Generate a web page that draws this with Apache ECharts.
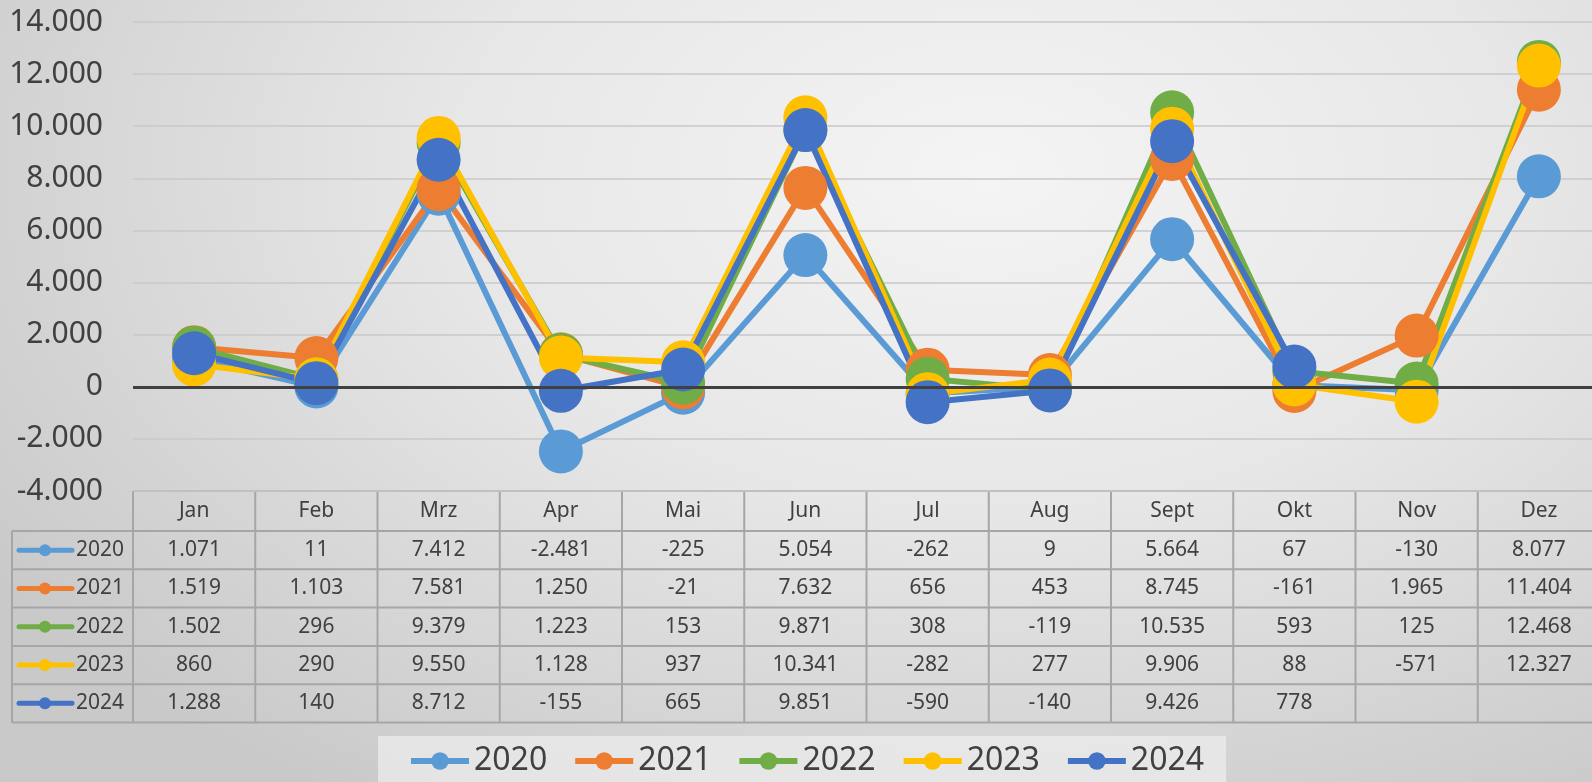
<!DOCTYPE html>
<html>
<head>
    <meta charset="utf-8">
    <title>Monatswerte 2020-2024</title>
    <script src="https://cdn.jsdelivr.net/npm/echarts@6/dist/echarts.min.js"></script>
    <style>
        html, body { margin: 0; padding: 0; overflow: hidden; }
        #main {
            width: 1592px;
            height: 782px;
            background: radial-gradient(ellipse 75% 95% at 62% 22%, #f4f4f4 0%, #e7e7e7 45%, #c9c9c9 100%);
        }
    </style>
</head>
<body>
<div id="main"></div>
<script>
    // Daten
    var months = ['Jan', 'Feb', 'Mrz', 'Apr', 'Mai', 'Jun', 'Jul', 'Aug', 'Sept', 'Okt', 'Nov', 'Dez'];
    var years = ['2020', '2021', '2022', '2023', '2024'];
    var colors = ['#5b9bd5', '#ed7d31', '#70ad47', '#ffc000', '#4472c4'];
    var v2020 = [1071, 11, 7412, -2481, -225, 5054, -262, 9, 5664, 67, -130, 8077];
    var v2021 = [1519, 1103, 7581, 1250, -21, 7632, 656, 453, 8745, -161, 1965, 11404];
    var v2022 = [1502, 296, 9379, 1223, 153, 9871, 308, -119, 10535, 593, 125, 12468];
    var v2023 = [860, 290, 9550, 1128, 937, 10341, -282, 277, 9906, 88, -571, 12327];
    var v2024 = [1288, 140, 8712, -155, 665, 9851, -590, -140, 9426, 778, null, null];
    var values = [v2020, v2021, v2022, v2023, v2024];
    var yTicks = [-4000, 14000, 2000]; // min, max, interval

    // Geometrie (Tabelle läuft rechts etwas über den Rand hinaus)
    var gLeft = 133, gRight = 1600, gTop = 22, gBottom = 491;
    var headH = 40, rowH = 38.3;
    var txt = '#404040', border = '#a6a6a6';
    var font = '"Noto Sans", "Open Sans", sans-serif';

    function fmt(v) {
        if (v === null || v === undefined) return '';
        var s = String(Math.abs(v)).replace(/\B(?=(\d{3})+(?!\d))/g, '.');
        return (v < 0 ? '-' : '') + s;
    }

    var myChart = echarts.init(document.getElementById('main'));

    var series = [];
    for (var i = 0; i < years.length; i++) {
        var s = {
            name: years[i],
            type: 'line',
            data: values[i],
            symbol: 'circle',
            symbolSize: 44,
            showAllSymbol: true,
            itemStyle: { color: colors[i] },
            lineStyle: { color: colors[i], width: 6 },
            emphasis: { disabled: true },
            z: 3
        };
        if (i === 0) {
            s.markLine = {
                silent: true,
                symbol: 'none',
                label: { show: false },
                lineStyle: { color: '#404040', width: 3, type: 'solid' },
                data: [{ yAxis: 0 }]
            };
        }
        series.push(s);
    }

    // Tabelle unter der Achse
    var colW = (gRight - gLeft) / months.length;
    var tableBottom = gBottom + headH + rowH * years.length;
    var gr = [];
    // horizontale Linien
    gr.push({ type: 'line', shape: { x1: gLeft, y1: gBottom, x2: gRight, y2: gBottom }, style: { stroke: border, lineWidth: 2 } });
    for (var r = 0; r <= years.length; r++) {
        var y = gBottom + headH + r * rowH;
        gr.push({ type: 'line', shape: { x1: 12, y1: y, x2: gRight, y2: y }, style: { stroke: border, lineWidth: 2 } });
    }
    // vertikale Linien
    gr.push({ type: 'line', shape: { x1: 12, y1: gBottom + headH, x2: 12, y2: tableBottom }, style: { stroke: border, lineWidth: 2 } });
    for (var c = 0; c <= months.length; c++) {
        var x = gLeft + c * colW;
        gr.push({ type: 'line', shape: { x1: x, y1: gBottom, x2: x, y2: tableBottom }, style: { stroke: border, lineWidth: 2 } });
    }
    // Zeilenköpfe mit Legendensymbol
    for (var k = 0; k < years.length; k++) {
        var cy = gBottom + headH + k * rowH + rowH / 2;
        gr.push({ type: 'line', shape: { x1: 19, y1: cy, x2: 72, y2: cy }, style: { stroke: colors[k], lineWidth: 5, lineCap: 'round' } });
        gr.push({ type: 'circle', shape: { cx: 45, cy: cy, r: 6 }, style: { fill: colors[k] } });
        gr.push({ type: 'text', x: 76, y: cy, style: { text: years[k], fill: txt, font: '21px ' + font, textVerticalAlign: 'middle' } });
    }

    var option = {
        animation: false,
        backgroundColor: 'transparent',
        grid: {
            left: gLeft, width: gRight - gLeft, top: gTop, height: gBottom - gTop,
            containLabel: false,
            outerBoundsMode: 'none'
        },
        legend: {
            left: 378,
            top: 736,
            padding: [9, 22, 12, 30],
            itemGap: 25,
            itemWidth: 58,
            itemHeight: 22,
            lineStyle: { width: 6 },
            backgroundColor: 'rgba(236,236,236,0.75)',
            textStyle: { fontSize: 32, color: txt, fontFamily: font },
            data: years
        },
        xAxis: {
            type: 'category',
            data: months,
            axisLine: { show: false },
            axisTick: { show: false },
            splitLine: { show: false },
            axisLabel: {
                interval: 0,
                margin: 0,
                color: txt,
                fontFamily: font,
                formatter: function (val, idx) {
                    var out = '{h|' + val + '}';
                    for (var j = 0; j < years.length; j++) {
                        var t = fmt(values[j][idx]);
                        out += '\n{v|' + (t === '' ? ' ' : t) + '}';
                    }
                    return out;
                },
                rich: {
                    h: { fontSize: 21, lineHeight: headH, color: txt, fontFamily: font },
                    v: { fontSize: 21, lineHeight: rowH, color: txt, fontFamily: font }
                }
            }
        },
        yAxis: {
            type: 'value',
            min: yTicks[0],
            max: yTicks[1],
            interval: yTicks[2],
            axisLine: { show: false },
            axisTick: { show: false },
            axisLabel: {
                margin: 30,
                fontSize: 30,
                color: txt,
                fontFamily: font,
                formatter: function (v) { return fmt(v); }
            },
            splitLine: { lineStyle: { color: '#c8c8c8', width: 1.5 } }
        },
        graphic: gr,
        series: series
    };
    myChart.setOption(option);
</script>
</body>
</html>
